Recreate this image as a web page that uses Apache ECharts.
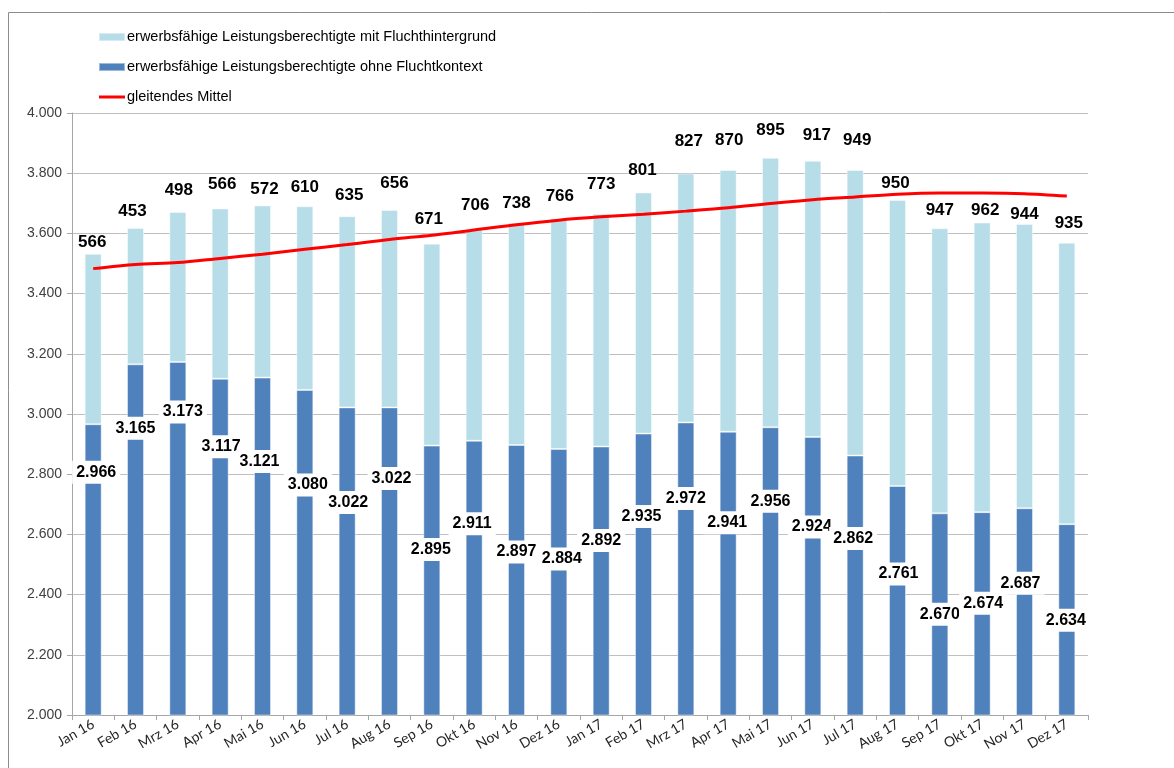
<!DOCTYPE html>
<html lang="de">
<head>
<meta charset="utf-8">
<title>Erwerbsfähige Leistungsberechtigte</title>
<script src="https://cdn.jsdelivr.net/npm/echarts@6/dist/echarts.min.js"></script>
<style>
  html, body { margin: 0; padding: 0; background: #fff; }
  #chart { width: 1174px; height: 768px; }
</style>
</head>
<body>
<div id="chart"></div>
<script>
// Monate
const months = ['Jan 16','Feb 16','Mrz 16','Apr 16','Mai 16','Jun 16','Jul 16','Aug 16','Sep 16','Okt 16','Nov 16','Dez 16',
                'Jan 17','Feb 17','Mrz 17','Apr 17','Mai 17','Jun 17','Jul 17','Aug 17','Sep 17','Okt 17','Nov 17','Dez 17'];

// erwerbsfähige Leistungsberechtigte ohne Fluchtkontext
const ohneFlucht = [2966, 3165, 3173, 3117, 3121, 3080, 3022, 3022, 2895, 2911, 2897, 2884,
                    2892, 2935, 2972, 2941, 2956, 2924, 2862, 2761, 2670, 2674, 2687, 2634];

// erwerbsfähige Leistungsberechtigte mit Fluchthintergrund
const mitFlucht = [566, 453, 498, 566, 572, 610, 635, 656, 671, 706, 738, 766,
                   773, 801, 827, 870, 895, 917, 949, 950, 947, 962, 944, 935];

// gleitendes Mittel der Summe
const mittel = [3483, 3497, 3503, 3517, 3531, 3547, 3563, 3580, 3594, 3611, 3629, 3644,
                3655, 3664, 3674, 3685, 3699, 3712, 3721, 3730, 3734, 3734, 3732, 3724];

// y-Achse
const yMin = 2000, yMax = 4000, yStep = 200;

// Lage der Beschriftungen relativ zur Balkenoberkante (px)
const ohneLabelDy = [48, 64, 50, 68, 84, 95, 95, 71, 104, 83, 107, 110, 94, 83, 76, 91, 74, 90, 83, 88, 101, 91, 75, 96];
const ohneLabelDx = [3, 0, 5, 1, -3, 3, 1, 2, -1, -2, 0, 3, 0, -2, 0, -1, 0, -1, -2, 1, 0, 1, -4, -1];
const mitLabelDy = [-12, -17, -22, -24, -16, -19, -21, -27, -24, -23, -20, -22, -30, -22, -32, -30, -28, -26, -30, -17, -18, -12, -10, -19];
const mitLabelDx = [-1, -3, 1, 2, 2, 0, 2, 5, -3, 1, 0, 1, 0, -1, 3, 1, 0, 4, 2, -2, 0, 3, 0, 2];

// Tausenderpunkt
function fmt(v) {
  return String(Math.round(v)).replace(/\B(?=(\d{3})+(?!\d))/g, '.');
}

const ohneData = ohneFlucht.map((v, i) => ({
  value: v,
  label: { position: ['50%', ohneLabelDy[i]], offset: [ohneLabelDx[i], 0] }
}));
const mitData = mitFlucht.map((v, i) => ({
  value: v,
  label: { position: ['50%', mitLabelDy[i]], offset: [mitLabelDx[i], 0] }
}));

const chart = echarts.init(document.getElementById('chart'), null, { renderer: 'canvas' });

chart.setOption({
  animation: false,
  backgroundColor: '#ffffff',
  graphic: [{
    type: 'rect',
    shape: { x: 8.5, y: 12.5, width: 1300, height: 900 },
    style: { fill: 'none', stroke: '#8c8c8c', lineWidth: 1 },
    silent: true,
    z: -10
  }],
  legend: {
    orient: 'vertical',
    left: 93,
    top: 22,
    itemWidth: 26,
    itemHeight: 8,
    itemGap: 10,
    symbolKeepAspect: true,
    textStyle: {
      fontFamily: '"Liberation Sans", Arial, sans-serif',
      fontSize: 14.5,
      color: '#000',
      lineHeight: 20,
      padding: [0, 0, 0, -3]
    },
    data: [
      { name: 'erwerbsfähige Leistungsberechtigte mit Fluchthintergrund', icon: 'rect' },
      { name: 'erwerbsfähige Leistungsberechtigte ohne Fluchtkontext', icon: 'rect' },
      { name: 'gleitendes Mittel', icon: 'path://M0,0H26V3H0Z' }
    ]
  },
  grid: { left: 72, right: 86, top: 113, bottom: 53, containLabel: false },
  xAxis: {
    type: 'category',
    data: months,
    boundaryGap: true,
    axisLine: { lineStyle: { color: '#a6a6a6', width: 1 } },
    axisTick: { show: true, alignWithLabel: false, length: 5, lineStyle: { color: '#a6a6a6' } },
    axisLabel: {
      interval: 0,
      rotate: 30,
      margin: 8,
      fontFamily: 'Lato, "Open Sans", sans-serif',
      fontSize: 14,
      color: '#262626'
    }
  },
  yAxis: {
    type: 'value',
    min: yMin,
    max: yMax,
    interval: yStep,
    axisLine: { show: true, lineStyle: { color: '#a6a6a6', width: 1 } },
    axisTick: { show: true, length: 5, lineStyle: { color: '#a6a6a6' } },
    splitLine: { show: true, lineStyle: { color: '#bfbfbf', width: 1 } },
    axisLabel: {
      margin: 10,
      fontFamily: '"Liberation Sans", Arial, sans-serif',
      fontSize: 14,
      color: '#404040',
      formatter: v => fmt(v)
    }
  },
  series: [
    {
      name: 'erwerbsfähige Leistungsberechtigte ohne Fluchtkontext',
      type: 'bar',
      stack: 'summe',
      barWidth: 17,
      data: ohneData,
      itemStyle: { color: '#4f81bd', borderColor: 'rgba(255,255,255,0.45)', borderWidth: 1 },
      label: {
        show: true,
        align: 'center',
        verticalAlign: 'middle',
        fontFamily: '"Liberation Sans", Arial, sans-serif',
        fontWeight: 'bold',
        fontSize: 16,
        color: '#000',
        backgroundColor: '#ffffff',
        padding: [4, 4, 3, 4],
        formatter: p => fmt(p.value)
      },
      z: 3
    },
    {
      name: 'erwerbsfähige Leistungsberechtigte mit Fluchthintergrund',
      type: 'bar',
      stack: 'summe',
      barWidth: 17,
      data: mitData,
      itemStyle: { color: '#b7dde8', borderColor: 'rgba(255,255,255,0.45)', borderWidth: 1 },
      label: {
        show: true,
        align: 'center',
        verticalAlign: 'middle',
        fontFamily: '"Liberation Sans", Arial, sans-serif',
        fontWeight: 'bold',
        fontSize: 17,
        color: '#000',
        formatter: p => fmt(p.value)
      },
      z: 3
    },
    {
      name: 'gleitendes Mittel',
      type: 'line',
      data: mittel,
      smooth: 0.3,
      symbol: 'none',
      showSymbol: false,
      lineStyle: { color: '#ff0000', width: 3 },
      itemStyle: { color: '#ff0000' },
      z: 4
    }
  ]
});
</script>
</body>
</html>
